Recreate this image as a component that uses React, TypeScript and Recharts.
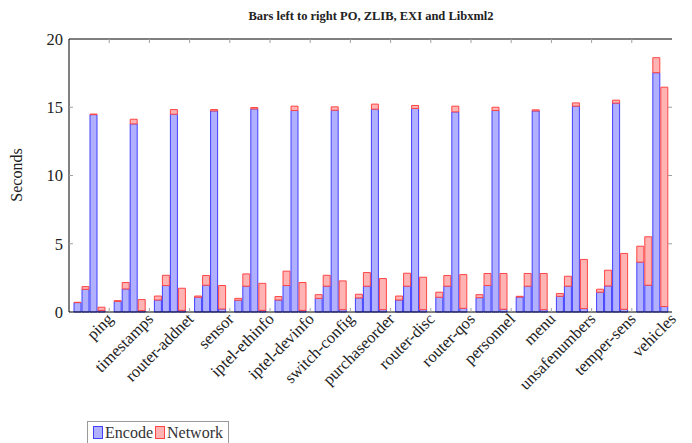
import { Bar, BarChart, ReferenceLine, XAxis, YAxis } from 'recharts';

const W = 692;
const H = 443;
const PLOT_LEFT = 69;
const PLOT_RIGHT = 672;
const PLOT_TOP = 39;
const PLOT_BOTTOM = 312;
const FONT = '"Liberation Serif", serif';

const categories = [
  'ping', 'timestamps', 'router-addnet', 'sensor', 'iptel-ethinfo', 'iptel-devinfo',
  'switch-config', 'purchaseorder', 'router-disc', 'router-qos', 'personnel', 'menu',
  'unsafenumbers', 'temper-sens', 'vehicles',
];

// Each bar is encode time with the network time stacked on top of it.
const poEncode = [0.69, 0.78, 0.88, 1.08, 0.86, 0.88, 1.0, 1.03, 0.88, 1.08, 1.05, 1.1, 1.15, 1.45, 3.65];
const poNetwork = [0.02, 0.05, 0.29, 0.09, 0.14, 0.25, 0.27, 0.27, 0.29, 0.37, 0.22, 0.05, 0.2, 0.22, 1.17];
const zlibEncode = [1.66, 1.69, 1.94, 1.96, 1.89, 1.94, 1.89, 1.89, 1.89, 1.89, 1.94, 1.89, 1.89, 1.91, 1.96];
const zlibNetwork = [0.2, 0.47, 0.75, 0.71, 0.9, 1.05, 0.8, 1.0, 0.95, 0.78, 0.88, 0.93, 0.73, 1.15, 3.55];
const exiEncode = [14.46, 13.78, 14.49, 14.73, 14.88, 14.76, 14.78, 14.86, 14.91, 14.66, 14.76, 14.73, 15.08, 15.3, 17.53];
const exiNetwork = [0.04, 0.34, 0.34, 0.1, 0.1, 0.32, 0.25, 0.37, 0.22, 0.42, 0.24, 0.08, 0.24, 0.22, 1.1];
const libEncode = [0.12, 0.1, 0.12, 0.22, 0.12, 0.12, 0.17, 0.17, 0.17, 0.27, 0.2, 0.17, 0.25, 0.2, 0.4];
const libNetwork = [0.23, 0.81, 1.62, 1.72, 1.98, 2.04, 2.11, 2.28, 2.38, 2.47, 2.62, 2.65, 3.6, 4.09, 16.07];

const yTicks = [0, 5, 10, 15, 20];

const ENC_FILL = '#b0b0ff';
const ENC_STROKE = '#4040ff';
const NET_FILL = '#ffb3b3';
const NET_STROKE = '#ff4545';
const TICK_GRAY = '#a0a0a0';

const data = categories.map((name, i) => ({
  name,
  poEnc: poEncode[i],
  poNet: poNetwork[i],
  zlibEnc: zlibEncode[i],
  zlibNet: zlibNetwork[i],
  exiEnc: exiEncode[i],
  exiNet: exiNetwork[i],
  libEnc: libEncode[i],
  libNet: libNetwork[i],
}));

const groups = ['po', 'zlib', 'exi', 'lib'];
const BAND = (PLOT_RIGHT - PLOT_LEFT) / categories.length;

// pgfplots puts the tick (and the end of the rotated label) at the right edge
// of each group, not in its middle.
function XTick(props: any) {
  const { x, payload, index } = props;
  const edge = x + BAND / 2;
  const last = index === categories.length - 1;
  const ax = edge + 5;
  const ay = PLOT_BOTTOM + 8;
  return (
    <g>
      {!last && (
        <>
          <line x1={edge} x2={edge} y1={PLOT_BOTTOM} y2={PLOT_BOTTOM - 4} stroke={TICK_GRAY} />
          <line x1={edge} x2={edge} y1={PLOT_TOP} y2={PLOT_TOP + 4} stroke={TICK_GRAY} />
        </>
      )}
      <text
        x={ax}
        y={ay}
        textAnchor="end"
        fontFamily={FONT}
        fontSize={16.5}
        fill="#222"
        transform={`rotate(-45, ${ax}, ${ay})`}
      >
        {payload.value}
      </text>
    </g>
  );
}

function YTick(props: any) {
  const { y, payload } = props;
  const edge = payload.value !== 0 && payload.value !== 20;
  return (
    <g>
      {edge && (
        <>
          <line x1={PLOT_LEFT} x2={PLOT_LEFT + 4} y1={y} y2={y} stroke={TICK_GRAY} />
          <line x1={PLOT_RIGHT - 4} x2={PLOT_RIGHT} y1={y} y2={y} stroke={TICK_GRAY} />
        </>
      )}
      <text x={PLOT_LEFT - 6} y={y} dy="0.35em" textAnchor="end" fontFamily={FONT} fontSize={16.5} fill="#222">
        {payload.value}
      </text>
    </g>
  );
}

function Swatch({ fill, stroke }: { fill: string; stroke: string }) {
  return (
    <span
      style={{
        display: 'inline-block',
        width: 8,
        height: 11,
        background: fill,
        border: `1.5px solid ${stroke}`,
        marginRight: 2,
        verticalAlign: '-1px',
      }}
    />
  );
}

export default function App() {
  return (
    <div style={{ position: 'absolute', left: 0, top: 0, width: W, height: H, overflow: 'hidden', background: '#fff' }}>
      <div
        style={{
          position: 'absolute',
          left: 0,
          width: 742,
          top: 9,
          textAlign: 'center',
          fontFamily: FONT,
          fontWeight: 'bold',
          fontSize: 12.5,
          color: '#222',
        }}
      >
        Bars left to right PO, ZLIB, EXI and Libxml2
      </div>
      <div
        style={{
          position: 'absolute',
          left: 17,
          top: 175,
          transform: 'translate(-50%, -50%) rotate(-90deg)',
          fontFamily: FONT,
          fontSize: 16,
          color: '#222',
          whiteSpace: 'nowrap',
        }}
      >
        Seconds
      </div>
      <BarChart
        width={W}
        height={H}
        data={data}
        margin={{ top: PLOT_TOP, right: W - PLOT_RIGHT, left: 0, bottom: 0 }}
        barCategoryGap={5}
        barGap={1}
      >
        <XAxis
          dataKey="name"
          interval={0}
          height={H - PLOT_BOTTOM}
          tickLine={false}
          axisLine={{ stroke: '#000' }}
          tick={<XTick />}
        />
        <YAxis
          domain={[0, 20]}
          ticks={yTicks}
          width={PLOT_LEFT}
          tickLine={false}
          axisLine={{ stroke: '#000' }}
          tick={<YTick />}
        />
        <YAxis
          yAxisId="right"
          orientation="right"
          domain={[0, 20]}
          width={0}
          tick={false}
          tickLine={false}
          axisLine={{ stroke: '#000' }}
        />
        {groups.map((g) => [
          <Bar
            key={`${g}Enc`}
            dataKey={`${g}Enc`}
            stackId={g}
            fill={ENC_FILL}
            stroke={ENC_STROKE}
            strokeWidth={1}
            isAnimationActive={false}
          />,
          <Bar
            key={`${g}Net`}
            dataKey={`${g}Net`}
            stackId={g}
            fill={NET_FILL}
            stroke={NET_STROKE}
            strokeWidth={1}
            isAnimationActive={false}
          />,
        ])}
        <ReferenceLine y={20} stroke="#000" />
      </BarChart>
      <div
        style={{
          position: 'absolute',
          left: 87,
          top: 421,
          width: 142,
          height: 30,
          border: '1px solid #999',
          boxSizing: 'border-box',
          padding: '2px 0 0 5px',
          fontFamily: FONT,
          fontSize: 16,
          color: '#333',
          whiteSpace: 'nowrap',
        }}
      >
        <Swatch fill={ENC_FILL} stroke={ENC_STROKE} />
        Encode
        <span style={{ display: 'inline-block', width: 2 }} />
        <Swatch fill={NET_FILL} stroke={NET_STROKE} />
        Network
      </div>
    </div>
  );
}
